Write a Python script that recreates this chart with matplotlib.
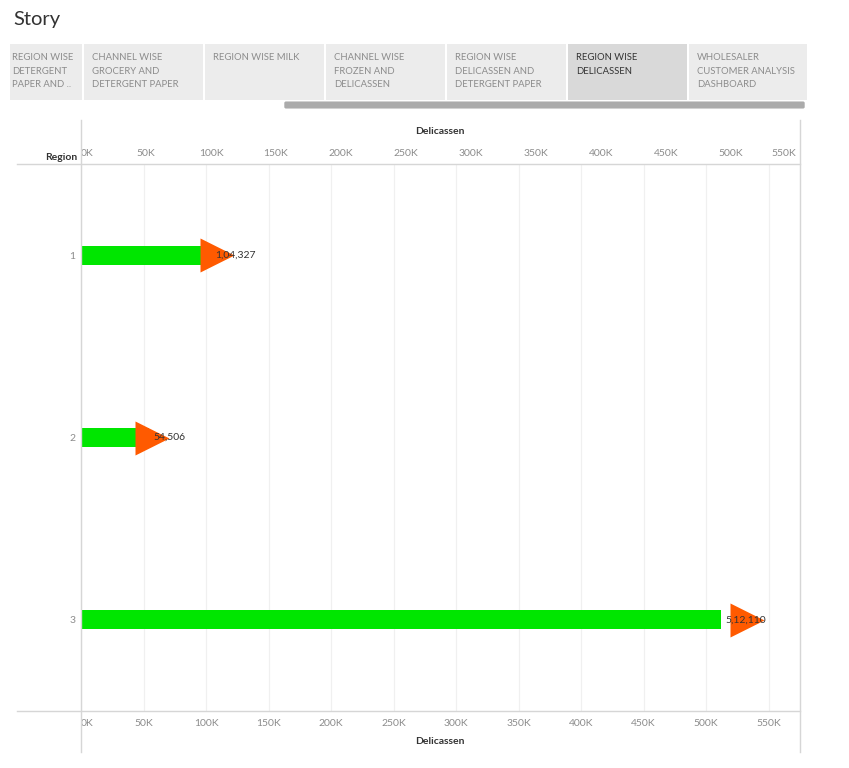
import matplotlib
matplotlib.use("Agg")
import matplotlib.pyplot as plt
from matplotlib.patches import Rectangle, FancyBboxPatch
from matplotlib.lines import Line2D

W, H = 849, 768
plt.rcParams['font.family'] = ['Lato', 'DejaVu Sans']

regions = ['1', '2', '3']
delicassen = [104327, 54506, 512110]
bottom_ticks = [0, 50000, 100000, 150000, 200000, 250000, 300000, 350000, 400000, 450000, 500000, 550000]
top_ticks = bottom_ticks
tabs = ["REGION WISE\nDETERGENT\nPAPER AND ..", "CHANNEL WISE\nGROCERY AND\nDETERGENT PAPER",
        "REGION WISE MILK", "CHANNEL WISE\nFROZEN AND\nDELICASSEN",
        "REGION WISE\nDELICASSEN AND\nDETERGENT PAPER", "REGION WISE\nDELICASSEN",
        "WHOLESALER\nCUSTOMER ANALYSIS\nDASHBOARD"]
active_tab = 5


def fx(px):
    return px / W


def fy(py):
    return 1 - py / H


def indian(n):
    s = str(n)
    if len(s) <= 3:
        return s
    head, tail = s[:-3], s[-3:]
    parts = []
    while len(head) > 2:
        parts.insert(0, head[-2:])
        head = head[:-2]
    if head:
        parts.insert(0, head)
    return ",".join(parts) + "," + tail


fig = plt.figure(figsize=(W / 100, H / 100), dpi=100)
fig.patch.set_facecolor("white")

fig.text(fx(13), fy(20), "Story", fontsize=14.5, color="#333333", va="center", ha="left")

# story tabs
edges = [(10, 82), (84, 203), (205, 324), (326, 445), (447, 566), (568, 687), (689, 807)]
for i, (lbl, (x0, x1)) in enumerate(zip(tabs, edges)):
    fc = "#d9d9d9" if i == active_tab else "#ececec"
    fig.patches.append(Rectangle((fx(x0), fy(100)), fx(x1 - x0), (100 - 44) / H,
                                 transform=fig.transFigure, facecolor=fc, edgecolor="none"))
    fig.text(fx(x0 + 2 if i == 0 else x0 + 8), fy(53), lbl, fontsize=6.8, va="top", ha="left",
             color="#333333" if i == active_tab else "#8c8c8c", linespacing=1.65)
fig.patches.append(FancyBboxPatch((fx(286), fy(107)), fx(517), 4 / H, transform=fig.transFigure,
                                  boxstyle="round,pad=0.002", facecolor="#ababab", edgecolor="none"))

# pane: bars on the bottom axis
ax = fig.add_axes([fx(81), fy(711), fx(800 - 81), (711 - 164) / H])
ax.set_xlim(0, 575000)
ax.set_ylim(2.5, -0.5)
ypos = list(range(len(regions)))
ax.barh(ypos, delicassen, height=0.104, color="#00e600", zorder=2)
ax.set_xticks(bottom_ticks)
ax.set_xticklabels([f"{t // 1000}K" for t in bottom_ticks], fontsize=7.5, color="#8c8c8c")
ax.get_xticklabels()[0].set_ha("left")
ax.set_yticks(ypos)
ax.set_yticklabels(regions, fontsize=7.5, color="#8c8c8c")
ax.tick_params(length=0, pad=6)
ax.tick_params(axis="y", pad=4)
ax.grid(axis="x", color="#f0f0f0", lw=0.9, zorder=0)
ax.set_axisbelow(True)
for s in ax.spines.values():
    s.set_visible(False)

# triangles on the top axis (dual axis)
ax2 = ax.twiny()
ax2.set_xlim(0, 553000)
ax2.plot(delicassen, ypos, ">", ms=25, color="#ff5a00", mec="none", zorder=3)
ax2.set_xticks(top_ticks)
ax2.set_xticklabels([f"{t // 1000}K" for t in top_ticks], fontsize=7.5, color="#8c8c8c")
ax2.get_xticklabels()[0].set_ha("left")
ax2.get_xticklabels()[-1].set_ha("right")
ax2.tick_params(length=0, pad=4)
for s in ax2.spines.values():
    s.set_visible(False)

# value labels at the bar ends, above the triangles
for y, v in zip(ypos, delicassen):
    ax2.annotate(indian(v), (v, y), xycoords=ax.transData, xytext=(3, 0), textcoords="offset points",
                 va="center", ha="left", fontsize=7.5, color="#333333", zorder=5)

# frame lines
lc = "#d6d6d6"
fig.add_artist(Line2D([fx(81), fx(81)], [fy(120), fy(752)], color=lc, lw=1))
fig.add_artist(Line2D([fx(800), fx(800)], [fy(120), fy(752)], color=lc, lw=1))
fig.add_artist(Line2D([fx(17), fx(800)], [fy(164), fy(164)], color=lc, lw=1))
fig.add_artist(Line2D([fx(17), fx(800)], [fy(711), fy(711)], color=lc, lw=1))

fig.text(fx(440), fy(131), "Delicassen", fontsize=7.5, fontweight="bold", color="#333333", ha="center", va="center")
fig.text(fx(440), fy(742), "Delicassen", fontsize=7.5, fontweight="bold", color="#333333", ha="center", va="center")
fig.text(fx(77), fy(157), "Region", fontsize=7.5, fontweight="bold", color="#333333", ha="right", va="center")

fig.savefig("out.png", dpi=100)
